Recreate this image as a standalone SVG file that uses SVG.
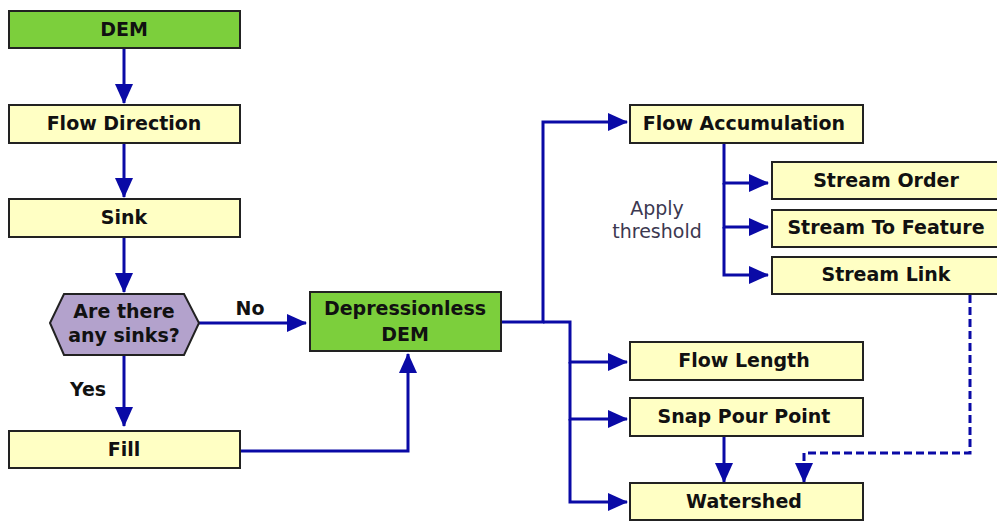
<svg xmlns="http://www.w3.org/2000/svg" width="997" height="522" viewBox="0 0 997 522">
<style>
.box{stroke:#222;stroke-width:2}
.g{fill:#7ccf3c}
.y{fill:#ffffc4}
.p{fill:#b3a2cc}
.t{font-family:"DejaVu Sans",Verdana,sans-serif;font-weight:bold;font-size:19px;fill:#111;text-anchor:middle}
.n{font-family:"DejaVu Sans",Verdana,sans-serif;font-size:19px;fill:#3c3850;text-anchor:middle}
.c{fill:none;stroke:#0a0aa6;stroke-width:3}
.d{stroke-dasharray:8 4}
</style>
<defs>
<marker id="ah" viewBox="0 0 20 18" refX="19" refY="9" markerWidth="20" markerHeight="18" markerUnits="userSpaceOnUse" orient="auto">
<path d="M0,0 L20,9 L0,18 Z" fill="#0a0aa6"/>
</marker>
</defs>
<g id="connectors">
<path class="c" d="M124,49 V103" marker-end="url(#ah)"/>
<path class="c" d="M124,143 V197" marker-end="url(#ah)"/>
<path class="c" d="M124,237 V292" marker-end="url(#ah)"/>
<path class="c" d="M199,323 H306" marker-end="url(#ah)"/>
<path class="c" d="M124,355 V426" marker-end="url(#ah)"/>
<path class="c" d="M241,451 H408 V354" marker-end="url(#ah)"/>
<path class="c" d="M501,322 H543 V122 H627" marker-end="url(#ah)"/>
<path class="c" d="M543,322 H570 V362 H627" marker-end="url(#ah)"/>
<path class="c" d="M570,362 V419 H627" marker-end="url(#ah)"/>
<path class="c" d="M570,419 V502 H627" marker-end="url(#ah)"/>
<path class="c" d="M724,143 V183 H768" marker-end="url(#ah)"/>
<path class="c" d="M724,183 V227 H768" marker-end="url(#ah)"/>
<path class="c" d="M724,227 V275 H768" marker-end="url(#ah)"/>
<path class="c" d="M724,437 V482" marker-end="url(#ah)"/>
<path class="c d" d="M970,295 V453 H804 V482" marker-end="url(#ah)"/>
<text class="t" x="250" y="315">No</text>
<text class="t" x="88" y="396">Yes</text>
<text class="n" x="657" y="215">Apply</text>
<text class="n" x="657" y="238">threshold</text>
</g>
<g id="dem"><rect class="box g" x="9" y="11" width="231" height="37"/><text class="t" x="124" y="36">DEM</text></g>
<g id="flowdir"><rect class="box y" x="9" y="105" width="231" height="38"/><text class="t" x="124" y="130">Flow Direction</text></g>
<g id="sink"><rect class="box y" x="9" y="199" width="231" height="38"/><text class="t" x="124" y="224">Sink</text></g>
<g id="decision"><polygon class="box p" points="50,323 64,294 184,294 199,323 184,355 64,355"/><text class="t" x="124" y="318">Are there</text><text class="t" x="124" y="342">any sinks?</text></g>
<g id="fill"><rect class="box y" x="9" y="431" width="231" height="37"/><text class="t" x="124" y="456">Fill</text></g>
<g id="depdem"><rect class="box g" x="310" y="292" width="191" height="59"/><text class="t" x="405" y="315">Depressionless</text><text class="t" x="405" y="341">DEM</text></g>
<g id="flowacc"><rect class="box y" x="630" y="105" width="233" height="38"/><text class="t" x="744" y="130">Flow Accumulation</text></g>
<g id="streamorder"><rect class="box y" x="772" y="162" width="232" height="37"/><text class="t" x="886" y="187">Stream Order</text></g>
<g id="streamtofeature"><rect class="box y" x="772" y="210" width="232" height="37"/><text class="t" x="886" y="234">Stream To Feature</text></g>
<g id="streamlink"><rect class="box y" x="772" y="257" width="232" height="37"/><text class="t" x="886" y="281">Stream Link</text></g>
<g id="flowlength"><rect class="box y" x="630" y="342" width="233" height="38"/><text class="t" x="744" y="367">Flow Length</text></g>
<g id="snap"><rect class="box y" x="630" y="398" width="233" height="38"/><text class="t" x="744" y="423">Snap Pour Point</text></g>
<g id="watershed"><rect class="box y" x="630" y="483" width="233" height="37"/><text class="t" x="744" y="508">Watershed</text></g>
</svg>
